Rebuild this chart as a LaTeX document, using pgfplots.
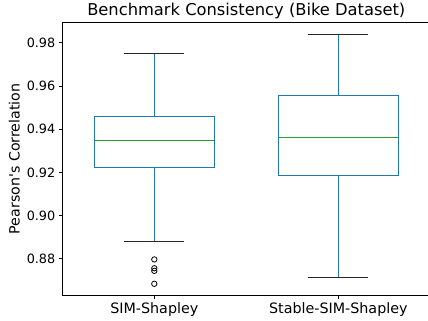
\documentclass[border=0pt]{standalone}
\usepackage{fontspec}
\setmainfont{DejaVu Sans}[Ligatures=TeXOff]
\usepackage{pgfplots}
\pgfplotsset{compat=1.18}
\usepgfplotslibrary{statistics}
\usetikzlibrary{calc}
\definecolor{mplblue}{HTML}{1F77B4}
\definecolor{mplgreen}{HTML}{2CA02C}
\begin{document}
\begin{tikzpicture}
\begin{axis}[
  scale only axis, width=368pt, height=273.7pt,
  xmin=0.5, xmax=2.5, ymin=0.8629, ymax=0.9896,
  xtick={1,2}, xticklabels={SIM-Shapley, Stable-SIM-Shapley},
  ytick={0.88,0.90,0.92,0.94,0.96,0.98},
  /pgf/number format/assume math mode=true,
  yticklabel style={/pgf/number format/fixed, /pgf/number format/fixed zerofill, /pgf/number format/precision=2, font=\fontsize{12.8}{15}\selectfont},
  xticklabel style={font=\fontsize{14.3}{17}\selectfont},
  ylabel={Pearson's Correlation},
  ylabel style={font=\fontsize{14.2}{17}\selectfont},
  title={Benchmark Consistency (Bike Dataset)},
  title style={font=\fontsize{16.3}{19}\selectfont, at={(axis description cs:0.5,1)}, anchor=base, yshift=0pt},
  tick align=outside, tick pos=left, major tick length=3.5pt,
  tick style={black, line width=0.75pt},
  axis line style={line width=0.75pt},
  boxplot/draw direction=y,
  boxplot/box extend=0.65,
  boxplot/whisker extend=0.325,
  boxplot/every box/.style={draw=mplblue, line width=1pt},
  boxplot/every median/.style={draw=mplgreen, line width=1pt},
  boxplot/draw/lower whisker/.code={
    \draw[mplblue, line width=1pt] (boxplot box cs:\pgfplotsboxplotvalue{lower whisker},0.5) -- (boxplot box cs:\pgfplotsboxplotvalue{lower quartile},0.5);
    \draw[black!85, line width=1pt] (boxplot whisker cs:\pgfplotsboxplotvalue{lower whisker},0) -- (boxplot whisker cs:\pgfplotsboxplotvalue{lower whisker},1);
  },
  boxplot/draw/upper whisker/.code={
    \draw[mplblue, line width=1pt] (boxplot box cs:\pgfplotsboxplotvalue{upper whisker},0.5) -- (boxplot box cs:\pgfplotsboxplotvalue{upper quartile},0.5);
    \draw[black!85, line width=1pt] (boxplot whisker cs:\pgfplotsboxplotvalue{upper whisker},0) -- (boxplot whisker cs:\pgfplotsboxplotvalue{upper whisker},1);
  },
]
\addplot[black, mark=o, mark size=2.7pt, mark options={line width=0.8pt},
  boxplot prepared={draw position=1, lower whisker=0.8882, lower quartile=0.9223,
    median=0.9346, upper quartile=0.9459, upper whisker=0.9752}]
  table[row sep=\\, y index=0] {data\\ 0.8797\\ 0.8756\\ 0.8744\\ 0.8684\\};
\addplot[black,
  boxplot prepared={draw position=2, lower whisker=0.8715, lower quartile=0.9184,
    median=0.9360, upper quartile=0.9555, upper whisker=0.9840}]
  coordinates {};
\end{axis}
\pgfresetboundingbox
\path[use as bounding box] ($(current axis.south west)+(-62.3pt,-25.3pt)$) rectangle ($(current axis.north east)+(-2.3pt,22pt)$);
\end{tikzpicture}
\end{document}
